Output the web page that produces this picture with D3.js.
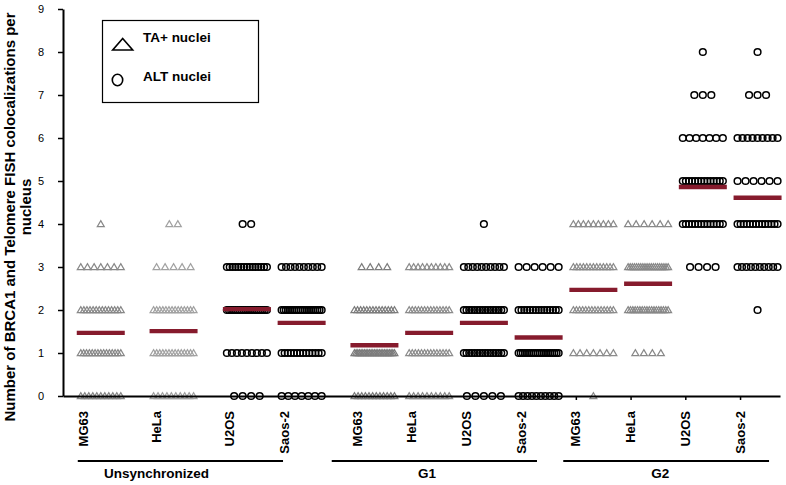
<!DOCTYPE html>
<html><head><meta charset="utf-8">
<script src="https://cdn.jsdelivr.net/npm/d3@7"></script>
<style>
body{margin:0;background:#fff}
svg{display:block}
text{font-family:"Liberation Sans",Arial,Helvetica,sans-serif;fill:#000}
</style></head>
<body><svg id="chart" width="786" height="485"></svg>
<script>
// ---------- DATA ----------
const categories = ["MG63","HeLa","U2OS","Saos-2","MG63","HeLa","U2OS","Saos-2","MG63","HeLa","U2OS","Saos-2"];
const groupNames = ["Unsynchronized","G1","G2"];
const xPos = [0, 1.33, 2.67, 3.67, 5, 6, 7, 8, 9, 10, 11, 12];      // x value of each column
const nucleusType = ["TA","TA","ALT","ALT","TA","TA","ALT","ALT","TA","TA","ALT","ALT"];
const yTicks = [0,1,2,3,4,5,6,7,8,9];
const yValues = [0,1,2,3,4,5,6,7,8];
// number of nuclei with 0..8 colocalizations, per column
const unsyncMG63 = [11,15,14,7,1,0,0,0,0];
const unsyncHeLa = [10,14,14,5,2,0,0,0,0];
const unsyncU2OS = [4,9,20,15,2,0,0,0,0];
const unsyncSaos = [7,14,20,10,0,0,0,0,0];
const g1MG63 = [12,25,14,4,0,0,0,0,0];
const g1HeLa = [10,14,14,10,0,0,0,0,0];
const g1U2OS = [5,16,16,10,1,0,0,0,0];
const g1Saos = [10,20,15,6,0,0,0,0,0];
const g2MG63 = [1,7,14,13,9,0,0,0,0];
const g2HeLa = [0,4,18,20,6,0,0,0,0];
const g2U2OS = [0,0,0,4,14,14,7,3,1];
const g2Saos = [0,0,1,10,14,6,9,3,1];
const counts = [unsyncMG63,unsyncHeLa,unsyncU2OS,unsyncSaos,g1MG63,g1HeLa,g1U2OS,g1Saos,g2MG63,g2HeLa,g2U2OS,g2Saos];
const means = [1.47,1.51,2.02,1.70,1.18,1.47,1.70,1.36,2.47,2.61,4.86,4.61];
const legendLabels = ["TA+ nuclei","ALT nuclei"];

// ---------- LAYOUT ----------
const groupSpan = [[-0.42,3.33],[4.22,7.97],[8.45,12.21]];
const groupLabelX = [1.02,5.96,10.22];
const labelShift = -0.32;
const tickedCols = [8,9,10,11];

const svg = d3.select("#chart");
const x = d3.scaleLinear().domain([-0.69, 12.41]).range([63, 780]);
const y = d3.scaleLinear().domain([0, 9]).range([396, 9]);

// points
const pts = [];
counts.forEach((arr, i) => {
  arr.forEach((n, vi) => {
    const s = n > 1 ? Math.min(8.5, 40 / (n - 1)) : 0;
    for (let j = 0; j < n; j++) pts.push({i, v: yValues[vi], off: (j - (n - 1) / 2) * s});
  });
});
const triPath = "M0,-3.4L3.5,2.6L-3.5,2.6Z";
const triColor = ["#888","#a2a2a2","","","#7c7c7c","#8c8c8c","","","#8c8c8c","#888","",""];
svg.append("g").selectAll("path").data(pts.filter(d => nucleusType[d.i] === "TA")).join("path")
  .attr("d", triPath)
  .attr("transform", d => `translate(${x(xPos[d.i]) + d.off},${y(d.v)})`)
  .attr("fill", "none").attr("stroke", d => triColor[d.i]).attr("stroke-width", 1.2);
svg.append("g").selectAll("circle").data(pts.filter(d => nucleusType[d.i] === "ALT")).join("circle")
  .attr("cx", d => x(xPos[d.i]) + d.off).attr("cy", d => y(d.v)).attr("r", 3.35)
  .attr("fill", "none").attr("stroke", "#000").attr("stroke-width", 1.5);

// mean lines
svg.append("g").selectAll("line").data(means).join("line")
  .attr("x1", (d, i) => x(xPos[i]) - 24).attr("x2", (d, i) => x(xPos[i]) + 24)
  .attr("y1", d => y(d)).attr("y2", d => y(d))
  .attr("stroke", "#861b2d").attr("stroke-width", 4.3);

// y axis
const ya = svg.append("g").attr("transform", "translate(63,0)")
  .call(d3.axisLeft(y).tickValues(yTicks).tickSize(5).tickSizeOuter(0).tickPadding(14));
ya.select(".domain").attr("stroke", "#000").attr("stroke-width", 2);
ya.selectAll(".tick line").attr("stroke", "#000").attr("stroke-width", 1.5);
ya.selectAll(".tick text").attr("font-size", 11).attr("font-family", '"Liberation Sans",Arial,sans-serif');

// x axis
const xa = svg.append("g").attr("transform", "translate(0,396)")
  .call(d3.axisBottom(x).tickValues(tickedCols.map(i => xPos[i] + labelShift)).tickFormat("").tickSize(4).tickSizeOuter(0));
xa.select(".domain").attr("stroke", "#000").attr("stroke-width", 2);
xa.selectAll(".tick line").attr("stroke", "#000").attr("stroke-width", 1.5);

// category labels
svg.append("g").selectAll("text").data(categories).join("text")
  .attr("transform", (d, i) => `translate(${x(xPos[i] + labelShift) + 4.6},411) rotate(-90)`)
  .attr("text-anchor", "end").attr("font-size", 13).attr("font-weight", "bold").text(d => d);

// group brackets
svg.append("g").selectAll("line").data(groupNames).join("line")
  .attr("x1", (d, i) => x(groupSpan[i][0])).attr("x2", (d, i) => x(groupSpan[i][1]))
  .attr("y1", 461).attr("y2", 461).attr("stroke", "#000").attr("stroke-width", 2);
svg.append("g").selectAll("text").data(groupNames).join("text")
  .attr("x", (d, i) => x(groupLabelX[i])).attr("y", 478)
  .attr("text-anchor", "middle").attr("font-size", 13.5).attr("font-weight", "bold").text(d => d);

// y title
svg.append("text").attr("transform", "translate(15,217) rotate(-90)")
  .attr("text-anchor", "middle").attr("font-size", 15).attr("font-weight", "bold")
  .text("Number of BRCA1 and Telomere FISH colocalizations per");
svg.append("text").attr("transform", "translate(31,207) rotate(-90)")
  .attr("text-anchor", "middle").attr("font-size", 15).attr("font-weight", "bold")
  .text("nucleus");

// legend
const lg = svg.append("g");
lg.append("rect").attr("x", 102.5).attr("y", 20.5).attr("width", 156).attr("height", 82)
  .attr("fill", "#fff").attr("stroke", "#000").attr("stroke-width", 1.2);
lg.append("path").attr("d", "M122.7,38.5L132.7,50L112.7,50Z").attr("fill", "none")
  .attr("stroke", "#000").attr("stroke-width", 1.6);
lg.append("ellipse").attr("cx", 117.5).attr("cy", 80).attr("rx", 5.2).attr("ry", 5.7).attr("fill", "none")
  .attr("stroke", "#000").attr("stroke-width", 1.6);
lg.selectAll("text.l").data(legendLabels).join("text").attr("class", "l")
  .attr("x", 143).attr("y", (d, i) => i === 0 ? 42 : 81)
  .attr("font-size", 13.5).attr("font-weight", "bold").text(d => d);
</script></body></html>
